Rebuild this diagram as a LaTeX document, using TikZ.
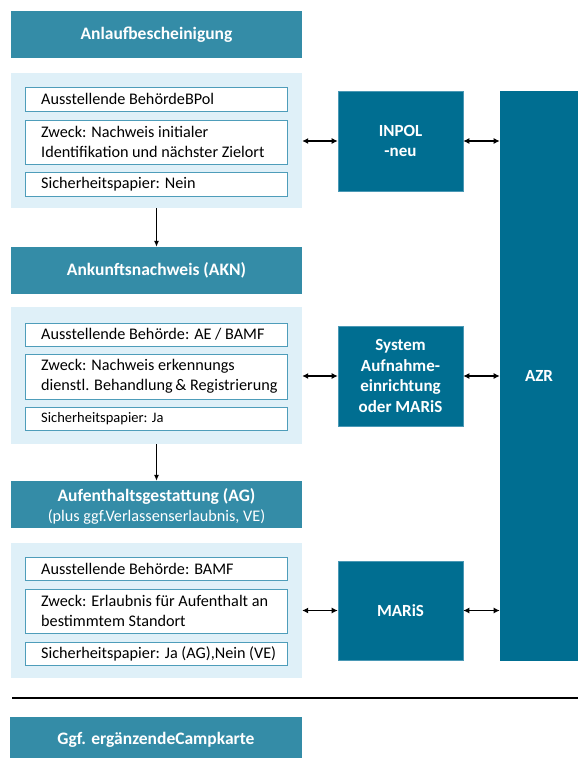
\documentclass[tikz,border=0pt]{standalone}
\usepackage{fontspec}
\setmainfont{Carlito}
\usetikzlibrary{arrows.meta}
\definecolor{hdr}{HTML}{348CA7}
\definecolor{dark}{HTML}{006E91}
\definecolor{darkedge}{HTML}{4A98B5}
\definecolor{panel}{HTML}{DFF0F8}
\definecolor{inedge}{HTML}{4E9DBA}
\tikzset{
  hdrbox/.style={fill=hdr, draw=none, minimum width=291pt, inner sep=0pt, text=white, font=\fontsize{17.5}{20}\selectfont\bfseries, align=center},
  panelbox/.style={fill=panel, draw=none, minimum width=291pt, inner sep=0pt},
  inbox/.style={fill=white, draw=inedge, line width=1pt, minimum width=262pt, inner sep=0pt},
  intext/.style={anchor=west, inner sep=0pt, align=left, font=\fontsize{16.2}{20}\selectfont},
  sysbox/.style={fill=dark, draw=darkedge, line width=0.6pt, inner sep=0pt, text=white, font=\fontsize{17}{20.5}\selectfont\bfseries, align=center},
  dblarrow/.style={{Latex[length=6pt,width=6pt]}-{Latex[length=6pt,width=6pt]}, line width=1.1pt},
  downarrow/.style={-{Latex[length=6pt,width=5pt]}, line width=1pt}
}
\begin{document}
\begin{tikzpicture}[x=1pt,y=-1pt]
\useasboundingbox (0,0) rectangle (578,758);
% Block 1
\node[hdrbox, minimum height=47pt] (h1) at (156.5,34.5) {Anlaufbescheinigung};
\node[panelbox, minimum height=135pt] (p1) at (156.5,140.5) {};
\node[inbox, minimum height=24pt] (b11) at (156,99) {};
\node[inbox, minimum height=44pt] (b12) at (156,142) {};
\node[inbox, minimum height=24pt] (b13) at (156,184) {};
\node[intext] (t11) at (41,99) {Ausstellende BehördeBPol};
\node[intext] (t12) at (41,142) {Zweck: Nachweis initialer\\Identifikation und nächster Zielort};
\node[intext] (t13) at (41,184) {Sicherheitspapier: Nein};
% Block 2
\node[hdrbox, minimum height=47pt] (h2) at (156.5,270.5) {Ankunftsnachweis (AKN)};
\node[panelbox, minimum height=137pt] (p2) at (156.5,375.5) {};
\node[inbox, minimum height=23pt] (b21) at (156,334.5) {};
\node[inbox, minimum height=45pt] (b22) at (156,376.5) {};
\node[inbox, minimum height=23pt] (b23) at (156,418.5) {};
\node[intext] (t21) at (41,334.5) {Ausstellende Behörde: AE / BAMF};
\node[intext] (t22) at (41,376.5) {Zweck: Nachweis erkennungs\\dienstl. Behandlung\,\& Registrierung};
\node[intext, font=\fontsize{14.5}{17}\selectfont] (t23) at (41,418.5) {Sicherheitspapier: Ja};
% Block 3
\node[hdrbox, minimum height=47pt] (h3) at (156.5,504.5) {};
\node[text=white, font=\fontsize{17.5}{20}\selectfont\bfseries, inner sep=0pt] (h3a) at (156.5,496) {Aufenthaltsgestattung (AG)};
\node[text=white, font=\fontsize{16.2}{19}\selectfont, inner sep=0pt] (h3b) at (156.5,517) {(plus ggf.Verlassenserlaubnis, VE)};
\node[panelbox, minimum height=135pt] (p3) at (156.5,610.5) {};
\node[inbox, minimum height=23pt] (b31) at (156,568.5) {};
\node[inbox, minimum height=44pt] (b32) at (156,611) {};
\node[inbox, minimum height=23pt] (b33) at (156,653.5) {};
\node[intext] (t31) at (41,568.5) {Ausstellende Behörde: BAMF};
\node[intext] (t32) at (41,611) {Zweck: Erlaubnis für Aufenthalt an\\bestimmtem Standort};
\node[intext] (t33) at (41,653.5) {Sicherheitspapier: Ja (AG),Nein (VE)};
% separator
\coordinate (sl) at (12,698);
\coordinate (sr) at (578,698);
\draw[line width=1.4pt] (sl) -- (sr);
% Block 4
\node[hdrbox, minimum width=292pt, minimum height=45pt] (h4) at (156,739.5) {Ggf. ergänzendeCampkarte};
% systems
\node[sysbox, minimum width=125pt, minimum height=100pt] (inpol) at (400.5,141) {INPOL\\-neu};
\node[sysbox, minimum width=125pt, minimum height=100pt] (sys) at (400.5,376) {System\\Aufnahme-\\einrichtung\\oder MARiS};
\node[sysbox, minimum width=125pt, minimum height=99pt] (maris) at (400.5,610.5) {MARiS};
\node[sysbox, draw=none, minimum width=78pt, minimum height=570pt] (azr) at (539,376) {AZR};
% arrows
\draw[downarrow] (p1.south) -- (h2.north);
\draw[downarrow] (p2.south) -- (h3.north);
\draw[dblarrow] (p1.east |- inpol.west) -- (inpol.west);
\draw[dblarrow] (inpol.east) -- (inpol.east -| azr.west);
\draw[dblarrow] (p2.east |- sys.west) -- (sys.west);
\draw[dblarrow] (sys.east) -- (sys.east -| azr.west);
\draw[dblarrow] (p3.east |- maris.west) -- (maris.west);
\draw[dblarrow] (maris.east) -- (maris.east -| azr.west);
\end{tikzpicture}
\end{document}
